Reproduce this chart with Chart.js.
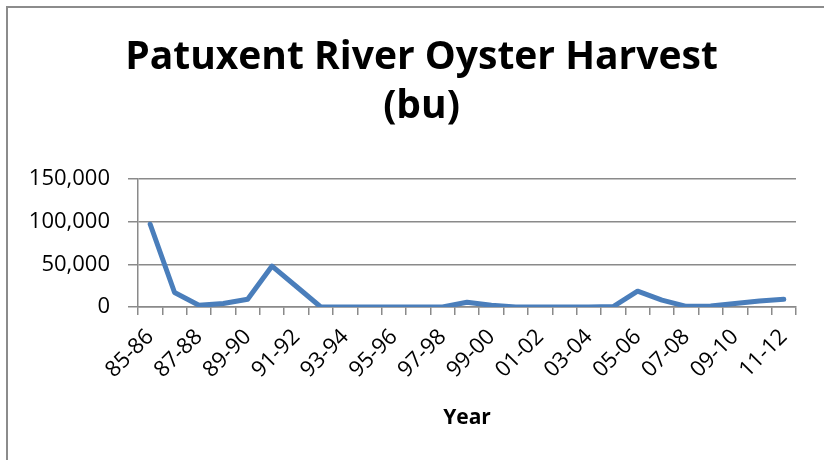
<!DOCTYPE html>
<html>
<head>
<meta charset="utf-8">
<title>Patuxent River Oyster Harvest</title>
<script src="https://cdn.jsdelivr.net/npm/chart.js@4.4.1/dist/chart.umd.min.js"></script>
<style>
  html, body { margin: 0; padding: 0; background: #fff; overflow: hidden; }
  #frame {
    position: absolute; left: 6px; top: 6px;
    border-left: 2px solid #8c8c8c; border-top: 2px solid #8c8c8c;
  }
  #frame canvas { display: block; }
</style>
</head>
<body>
<div id="frame">
  <canvas id="harvestChart" width="827" height="452"></canvas>
</div>
<script>
// harvest seasons (x axis), one per season
const seasons = [
  '85-86', '86-87', '87-88', '88-89', '89-90', '90-91', '91-92', '92-93', '93-94',
  '94-95', '95-96', '96-97', '97-98', '98-99', '99-00', '00-01', '01-02', '02-03',
  '03-04', '04-05', '05-06', '06-07', '07-08', '08-09', '09-10', '10-11', '11-12'
];

// bushels harvested
const harvestBu = [
  97000, 17000, 2000, 4000, 9000, 48000, 24000, 0, 0,
  0, 0, 0, 0, 5500, 2000, 0, 0, 0,
  0, 500, 18500, 8000, 800, 1200, 4000, 7000, 9000
];

const yTicks = [0, 50000, 100000, 150000];

const gridGray = '#8a8a8a';
const lineBlue = '#4a7ebb';

document.addEventListener('DOMContentLoaded', function () {
    const ctx = document.getElementById('harvestChart').getContext('2d');

    const harvestChart = new Chart(ctx, {
        type: 'line',
        data: {
            labels: seasons,
            datasets: [{
                label: 'Harvest (bu)',
                data: harvestBu,
                borderColor: lineBlue,
                backgroundColor: lineBlue,
                borderWidth: 5,
                borderCapStyle: 'round',
                borderJoinStyle: 'round',
                pointRadius: 0,
                tension: 0,
                fill: false,
                yAxisID: 'y'
            }]
        },
        options: {
            responsive: false,
            animation: false,
            layout: {
                padding: 0
            },
            plugins: {
                legend: { display: false },
                tooltip: { enabled: false },
                title: {
                    display: true,
                    text: ['Patuxent River Oyster Harvest', '(bu)'],
                    color: '#000',
                    font: { family: 'Open Sans', size: 39, weight: 'bold', lineHeight: '49px' },
                    padding: { top: 25, bottom: 48 }
                }
            },
            scales: {
                x: {
                    type: 'category',
                    offset: true,
                    afterFit: function (scale) { scale.height = 153; },
                    grid: {
                        offset: true,
                        drawOnChartArea: false,
                        drawTicks: true,
                        tickLength: 8,
                        color: gridGray,
                        lineWidth: 1.5
                    },
                    border: { display: true, color: gridGray, width: 1.5 },
                    ticks: {
                        autoSkip: false,
                        minRotation: 45,
                        maxRotation: 45,
                        padding: 9,
                        color: '#000',
                        font: { family: 'Open Sans', size: 22 },
                        // only every other season gets a label
                        callback: function (value, index) {
                            return index % 2 === 0 ? seasons[index] : '';
                        }
                    },
                    title: {
                        display: true,
                        text: 'Year',
                        color: '#000',
                        font: { family: 'Open Sans', size: 21, weight: 'bold', lineHeight: 1 },
                        padding: { top: 0, bottom: 31 }
                    }
                },
                y: {
                    position: 'left',
                    min: yTicks[0],
                    max: yTicks[yTicks.length - 1],
                    afterFit: function (scale) { scale.width = 130; },
                    afterBuildTicks: function (scale) {
                        scale.ticks = yTicks.map(v => ({ value: v }));
                    },
                    grid: {
                        drawTicks: true,
                        tickLength: 10,
                        color: gridGray,
                        lineWidth: 1.5
                    },
                    border: { display: true, color: gridGray, width: 1.5 },
                    ticks: {
                        padding: 18,
                        color: '#000',
                        font: { family: 'Open Sans', size: 22 },
                        callback: function (value) {
                            return value.toLocaleString('en-US');
                        }
                    }
                },
                // empty spacer on the right so the plot ends short of the frame
                // while the title stays centred on the whole width
                spacer: {
                    type: 'linear',
                    position: 'right',
                    afterFit: function (scale) { scale.width = 39; },
                    grid: { display: false },
                    border: { display: false },
                    ticks: { display: false }
                }
            }
        }
    });
});
</script>
</body>
</html>
